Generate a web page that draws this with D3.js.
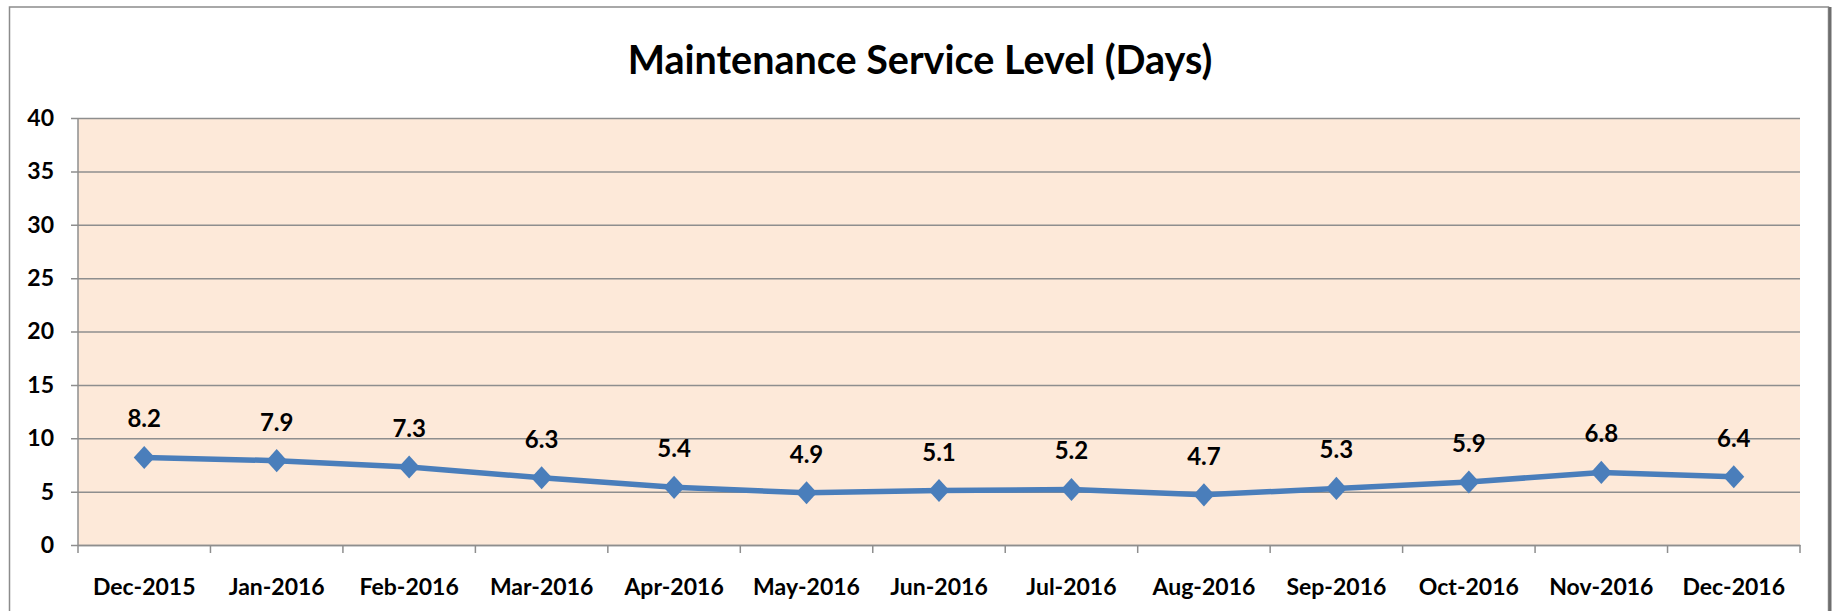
<!DOCTYPE html>
<html>
<head>
<meta charset="utf-8">
<script src="https://cdn.jsdelivr.net/npm/d3@7"></script>
<style>
  html, body { margin: 0; padding: 0; background: #ffffff; }
  svg { display: block; }
  text { font-family: Lato, "Open Sans", sans-serif; font-weight: bold; fill: #000; }
</style>
</head>
<body>
<svg id="chart" width="1833" height="611"></svg>
<script>
const title = "Maintenance Service Level (Days)";
const categories = ["Dec-2015","Jan-2016","Feb-2016","Mar-2016","Apr-2016","May-2016","Jun-2016","Jul-2016","Aug-2016","Sep-2016","Oct-2016","Nov-2016","Dec-2016"];
const values = [8.2, 7.9, 7.3, 6.3, 5.4, 4.9, 5.1, 5.2, 4.7, 5.3, 5.9, 6.8, 6.4];
const yTicks = [0, 5, 10, 15, 20, 25, 30, 35, 40];

const svg = d3.select("#chart");
const W = 1833, H = 611;
const plot = { left: 78, right: 1800, top: 118, bottom: 545 };

// outer chart border
svg.append("rect").attr("x", 9.5).attr("y", 7).attr("width", 1819).attr("height", 620)
  .attr("fill", "#fff").attr("stroke", "#8c8c8c").attr("stroke-width", 1.5);
svg.append("line").attr("x1", 1830).attr("x2", 1830).attr("y1", 7).attr("y2", H)
  .attr("stroke", "#6e6e6e").attr("stroke-width", 3);

const x = d3.scaleBand().domain(categories).range([plot.left, plot.right]).padding(0);
const y = d3.scaleLinear().domain([0, 40]).range([plot.bottom, plot.top]);

// plot background
svg.append("rect").attr("x", plot.left).attr("y", plot.top)
  .attr("width", plot.right - plot.left).attr("height", plot.bottom - plot.top)
  .attr("fill", "#fde9d9");

// gridlines + y axis
const yAxis = d3.axisLeft(y).tickValues(yTicks).tickSize(plot.right - plot.left + 7).tickPadding(17);
const gy = svg.append("g").attr("transform", `translate(${plot.right},0)`).call(yAxis);
gy.select(".domain").remove();
gy.selectAll(".tick line").attr("stroke", "#8e8e8e").attr("stroke-width", 1.5);
gy.selectAll(".tick text").style("font-size", "23px").attr("fill", "#000");

// left axis line
svg.append("line").attr("x1", plot.left).attr("x2", plot.left).attr("y1", plot.top).attr("y2", plot.bottom)
  .attr("stroke", "#8e8e8e").attr("stroke-width", 1.5);

// x axis
const gx = svg.append("g").attr("transform", `translate(0,${plot.bottom})`)
  .call(d3.axisBottom(x).tickSize(0).tickPadding(34));
gx.select(".domain").attr("stroke", "#8e8e8e").attr("stroke-width", 1.5);
gx.selectAll(".tick text").style("font-size", "23px").attr("fill", "#000");
// category boundary tick marks
const bounds = categories.map(c => x(c)).concat([plot.right]);
gx.selectAll(".btick").data(bounds).enter().append("line")
  .attr("class", "btick")
  .attr("x1", d => d).attr("x2", d => d).attr("y1", 0).attr("y2", 8)
  .attr("stroke", "#8e8e8e").attr("stroke-width", 1.5);

// line
const cx = c => x(c) + x.bandwidth() / 2;
const line = d3.line().x((d, i) => cx(categories[i])).y(d => y(d));
svg.append("path").datum(values).attr("d", line)
  .attr("fill", "none").attr("stroke", "#4a7ebb").attr("stroke-width", 5.5).attr("stroke-linejoin", "round");

// diamond markers (slightly taller than wide, as in Excel)
const diamondType = {
  draw(ctx, size) {
    const hw = Math.sqrt(size) * 0.5, hh = hw * 1.1;
    ctx.moveTo(0, -hh); ctx.lineTo(hw, 0); ctx.lineTo(0, hh); ctx.lineTo(-hw, 0); ctx.closePath();
  }
};
const sym = d3.symbol().type(diamondType).size(441);
svg.selectAll(".marker").data(values).enter().append("path")
  .attr("class", "marker")
  .attr("transform", (d, i) => `translate(${cx(categories[i])},${y(d)})`)
  .attr("d", sym).attr("fill", "#4a7ebb");

// data labels
svg.selectAll(".dlabel").data(values).enter().append("text")
  .attr("class", "dlabel")
  .attr("x", (d, i) => cx(categories[i]))
  .attr("y", d => y(d) - 30)
  .attr("text-anchor", "middle")
  .style("font-size", "24px")
  .text(d => d.toFixed(1));

// title
svg.append("text").attr("x", 920).attr("y", 74).attr("text-anchor", "middle")
  .style("font-size", "39.5px").text(title);
</script>
</body>
</html>
